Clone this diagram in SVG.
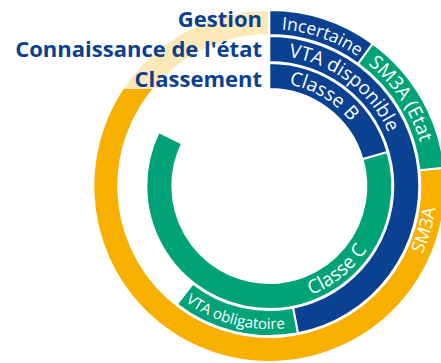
<svg xmlns="http://www.w3.org/2000/svg" width="441" height="363" viewBox="0 0 441 363">
<style>
.seg{stroke:#fff;stroke-width:2;stroke-linejoin:miter}
.blue{fill:#0b4191}
.green{fill:#00a278}
.orange{fill:#f7b000}
.rl{font-family:"Open Sans","Noto Sans","Liberation Sans",sans-serif;font-size:19px;fill:#fff}
.hd{font-family:"Open Sans","Noto Sans","Liberation Sans",sans-serif;font-size:22px;font-weight:700;fill:#0b3f8f;text-anchor:end}
</style>
<defs>
<path id="tpInc" d="M281.62,29.49 A157,157 0 0 1 405.27,107.5"/>
<path id="tpSME" d="M368.1,64 A157,157 0 0 1 423.91,213.26"/>
<path id="tpSM" d="M422.3,254.1 A168,168 0 0 0 414.8,101.9"/>
<path id="tpVTAd" d="M288.59,56.93 A130.5,130.5 0 0 1 397.82,208.65"/>
<path id="tpVTAo" d="M185.24,301.69 A142.5,142.5 0 0 0 318.21,320.38"/>
<path id="tpClB" d="M289.05,84.4 A103.5,103.5 0 0 1 371.23,203.97"/>
<path id="tpClC" d="M311.05,294.76 A116.5,116.5 0 0 0 384.03,165.78"/>
</defs>
<g id="sm3a">
<path class="seg orange" d="M444.33,167.61 A176,176 0 1 1 269.3,10 L269.3,35 A151,151 0 1 0 419.47,170.22 Z"/>
<text class="rl" style="font-size:18px"><textPath href="#tpSM">SM3A</textPath></text>
</g>
<g id="incertaine">
<path class="seg blue" d="M269.3,10 A176,176 0 0 1 372.75,43.62 L358.06,63.84 A151,151 0 0 0 269.3,35 Z"/>
<text class="rl" style="font-size:17.5px"><textPath href="#tpInc">Incertaine</textPath></text>
</g>
<g id="sm3a-etat">
<path class="seg green" d="M372.75,43.62 A176,176 0 0 1 444.33,167.61 L419.47,170.22 A151,151 0 0 0 358.06,63.84 Z"/>
<text class="rl"><textPath href="#tpSME">SM3A (Etat</textPath></text>
</g>
<g id="vta-disponible">
<path class="seg blue" d="M269.3,36 A150,150 0 0 1 297.92,333.24 L292.96,307.72 A124,124 0 0 0 269.3,62 Z"/>
<text class="rl"><textPath href="#tpVTAd">VTA disponible</textPath></text>
</g>
<g id="vta-obligatoire">
<path class="seg green" d="M297.92,333.24 A150,150 0 0 1 176.94,304.2 L192.95,283.71 A124,124 0 0 0 292.96,307.72 Z"/>
<text class="rl" style="font-size:15px"><textPath href="#tpVTAo">VTA obligatoire</textPath></text>
</g>
<g id="classe-b">
<path class="seg blue" d="M269.3,63 A123,123 0 0 1 387.54,152.1 L362.55,159.27 A97,97 0 0 0 269.3,89 Z"/>
<text class="rl"><textPath href="#tpClB">Classe B</textPath></text>
</g>
<g id="classe-c">
<path class="seg green" d="M387.54,152.1 A123,123 0 1 1 158.75,132.08 L182.12,143.48 A97,97 0 1 0 362.55,159.27 Z"/>
<text class="rl"><textPath href="#tpClC">Classe C</textPath></text>
</g>
<g id="legend">
<rect x="8" y="4" width="260" height="85" fill="#fff" fill-opacity="0.72"/>
<text class="hd" x="262" y="27">Gestion</text>
<text class="hd" x="262" y="57">Connaissance de l'état</text>
<text class="hd" x="262" y="87">Classement</text>
</g>
</svg>
